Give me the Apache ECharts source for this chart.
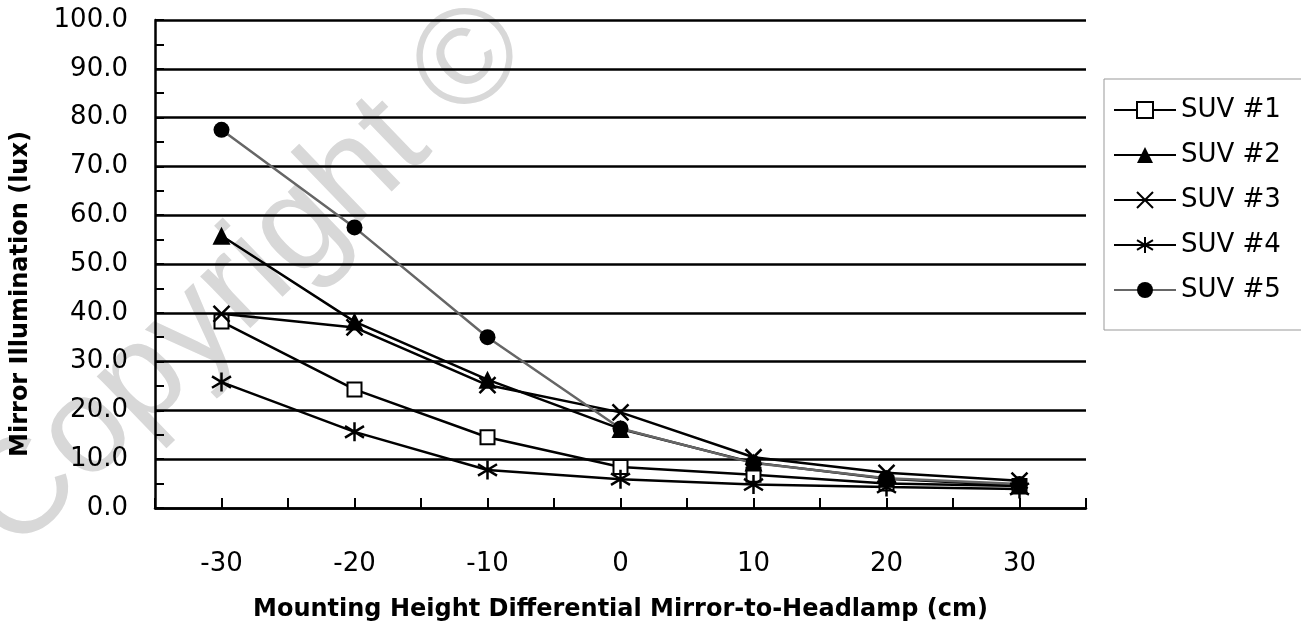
<!DOCTYPE html>
<html>
<head>
<meta charset="utf-8">
<script src="https://cdn.jsdelivr.net/npm/echarts@6/dist/echarts.min.js"></script>
<style>html,body{margin:0;padding:0;background:#fff;}#c{width:1301px;height:627px;}</style>
</head>
<body>
<div id="c"></div>
<script>
const xValues = [-30, -20, -10, 0, 10, 20, 30];
const seriesNames = ['SUV #1', 'SUV #2', 'SUV #3', 'SUV #4', 'SUV #5'];
const suv1 = [38.2, 24.3, 14.5, 8.4, 6.8, 5.0, 4.5];
const suv2 = [55.8, 38.2, 26.3, 16.2, 9.3, 6.0, 4.6];
const suv3 = [39.8, 37.0, 25.2, 19.6, 10.4, 7.2, 5.6];
const suv4 = [25.8, 15.6, 7.8, 5.9, 4.8, 4.3, 3.9];
const suv5 = [77.5, 57.5, 35.0, 16.3, 9.2, 6.1, 4.9];
const xTickLabels = ['-30', '-20', '-10', '0', '10', '20', '30'];
const xTitle = 'Mounting Height Differential Mirror-to-Headlamp (cm)';
const yTitle = 'Mirror Illumination (lux)';
const watermark = 'Copyright ©';

const pairs = arr => xValues.map((x, i) => [x, arr[i]]);
const FONT = 'DejaVu Sans';

const chart = echarts.init(document.getElementById('c'), null, {renderer: 'canvas'});
const base = (name, data, symbol, size, itemStyle, lineColor, lineWidth) => ({
  name, type: 'line', data: pairs(data), symbol, symbolSize: size,
  itemStyle, lineStyle: {color: lineColor, width: lineWidth},
  emphasis: {disabled: true}, z: 3
});
chart.setOption({
  animation: false,
  backgroundColor: '#fff',
  graphic: [{
    type: 'text', z: -10, x: 248, y: 278, rotation: 44 * Math.PI / 180,
    style: {text: watermark, font: '136px "Liberation Sans"', fill: '#d8d8d8', align: 'center', verticalAlign: 'middle'}
  }],
  grid: {left: 155, right: 215, top: 20, bottom: 118, containLabel: false},
  legend: {
    orient: 'vertical', left: 1104, top: 79,
    padding: [18, 40, 27, 9], itemGap: 19, itemWidth: 62, itemHeight: 20,
    borderColor: '#999', borderWidth: 1, backgroundColor: '#fff',
    textStyle: {fontFamily: FONT, fontSize: 26, color: '#000'},
    data: seriesNames
  },
  xAxis: {
    type: 'value', min: -35, max: 35, interval: 5,
    name: xTitle, nameLocation: 'middle', nameGap: 90,
    nameTextStyle: {fontFamily: FONT, fontWeight: 'bold', fontSize: 24, color: '#000'},
    axisLine: {onZero: false, lineStyle: {color: '#000', width: 2.5}},
    axisTick: {inside: true, length: 10, lineStyle: {color: '#000', width: 2}},
    axisLabel: {
      margin: 43, fontFamily: FONT, fontSize: 26, color: '#000',
      formatter: v => { const i = xValues.indexOf(v); return i >= 0 ? xTickLabels[i] : ''; }
    },
    splitLine: {show: false}
  },
  yAxis: {
    type: 'value', min: 0, max: 100, interval: 10,
    name: yTitle, nameLocation: 'middle', nameGap: 122,
    nameTextStyle: {fontFamily: FONT, fontWeight: 'bold', fontSize: 24, color: '#000', padding: [0, 60, 0, 0]},
    axisLine: {show: true, onZero: false, lineStyle: {color: '#000', width: 2.5}},
    axisTick: {show: true, inside: true, length: 9, lineStyle: {color: '#000', width: 2}},
    minorTick: {show: true, splitNumber: 2, length: 9, lineStyle: {color: '#000', width: 2}},
    axisLabel: {margin: 27, fontFamily: FONT, fontSize: 26, color: '#000', formatter: v => v.toFixed(1)},
    splitLine: {show: true, lineStyle: {color: '#000', width: 2.5}}
  },
  series: [
    base(seriesNames[0], suv1, 'rect', 14, {color: '#fff', borderColor: '#000', borderWidth: 2}, '#000', 2.5),
    base(seriesNames[1], suv2, 'triangle', 18, {color: '#000'}, '#000', 2.5),
    base(seriesNames[2], suv3, 'path://M0,0L10,10M10,0L0,10', 16, {color: '#000', borderColor: '#000', borderWidth: 2.5}, '#000', 2.5),
    base(seriesNames[3], suv4, 'path://M5,0L5,10M0,2L10,8M10,2L0,8', 19, {color: '#000', borderColor: '#000', borderWidth: 2.5}, '#000', 2.5),
    base(seriesNames[4], suv5, 'circle', 16, {color: '#000'}, '#666', 2.5)
  ]
});
</script>
</body>
</html>
